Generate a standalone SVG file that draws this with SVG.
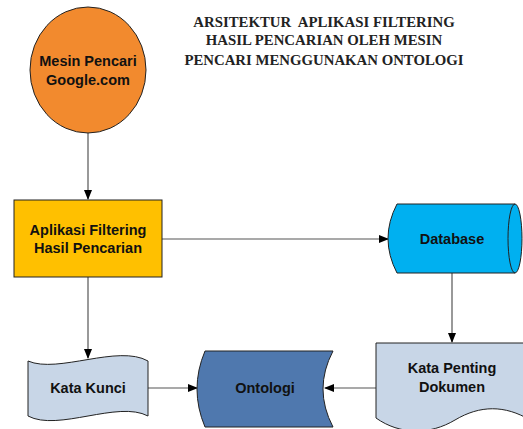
<svg xmlns="http://www.w3.org/2000/svg" width="523" height="429" viewBox="0 0 523 429">
<defs>
<marker id="arr" markerWidth="10" markerHeight="8" refX="9" refY="4" orient="auto" markerUnits="userSpaceOnUse">
<path d="M0,0 L10,4 L0,8 Z" fill="#000"/>
</marker>
<style>
.shape{stroke:#222;stroke-width:1}
.lbl{font-family:"Liberation Sans",Arial,sans-serif;font-weight:bold;font-size:14.5px;fill:#111;text-anchor:middle}
.title{font-family:"Liberation Serif","Times New Roman",serif;font-weight:bold;font-size:14.8px;fill:#222;text-anchor:middle}
.conn{stroke:#555;stroke-width:1.2;fill:none}
</style>
</defs>
<rect width="523" height="429" fill="#fff"/>
<g id="title">
<text class="title" x="324" y="27" xml:space="preserve">ARSITEKTUR  APLIKASI FILTERING</text>
<text class="title" x="324" y="45">HASIL PENCARIAN OLEH MESIN</text>
<text class="title" x="324" y="65">PENCARI MENGGUNAKAN ONTOLOGI</text>
</g>
<g id="connectors">
<line class="conn" x1="88" y1="133" x2="88" y2="199" marker-end="url(#arr)"/>
<line class="conn" x1="162" y1="239" x2="388" y2="239" marker-end="url(#arr)"/>
<line class="conn" x1="452" y1="273" x2="452" y2="342" marker-end="url(#arr)"/>
<line class="conn" x1="88" y1="277" x2="88" y2="358" marker-end="url(#arr)"/>
<line class="conn" x1="148" y1="388" x2="197" y2="388" marker-end="url(#arr)"/>
<line class="conn" x1="376" y1="388" x2="325" y2="388" marker-end="url(#arr)"/>
</g>
<g id="mesin">
<ellipse class="shape" cx="88" cy="70" rx="58" ry="63" fill="#F28A2E"/>
<text class="lbl" x="88" y="66">Mesin Pencari</text>
<text class="lbl" x="88" y="85">Google.com</text>
</g>
<g id="aplikasi">
<rect class="shape" x="14" y="200" width="148" height="77" fill="#FFC000"/>
<text class="lbl" x="88" y="235">Aplikasi Filtering</text>
<text class="lbl" x="88" y="253">Hasil Pencarian</text>
</g>
<g id="database">
<path class="shape" d="M397,204 L515,204 A7,34.5 0 0 1 515,273 L397,273 Q379,238.5 397,204 Z" fill="#00B0F0"/>
<path class="shape" d="M515,204 A7,34.5 0 0 0 515,273" fill="none"/>
<text class="lbl" x="452" y="244">Database</text>
</g>
<g id="katakunci">
<path class="shape" d="M28,361 C58,374 118,344 148,361 L148,416 C118,400 58,432 28,416 Z" fill="#C8D6E7"/>
<text class="lbl" x="88" y="393">Kata Kunci</text>
</g>
<g id="ontologi">
<path class="shape" d="M205,351 L333,351 Q313,389 333,427 L205,427 Q189,389 205,351 Z" fill="#4F78AE"/>
<text class="lbl" x="265" y="393">Ontologi</text>
</g>
<g id="katapenting">
<path class="shape" d="M376,343 L530,343 L530,420 C505,405 480,405 455,420 C430,435 400,435 376,418 Z" fill="#C8D6E7"/>
<text class="lbl" x="452" y="373">Kata Penting</text>
<text class="lbl" x="452" y="392">Dokumen</text>
</g>
</svg>
